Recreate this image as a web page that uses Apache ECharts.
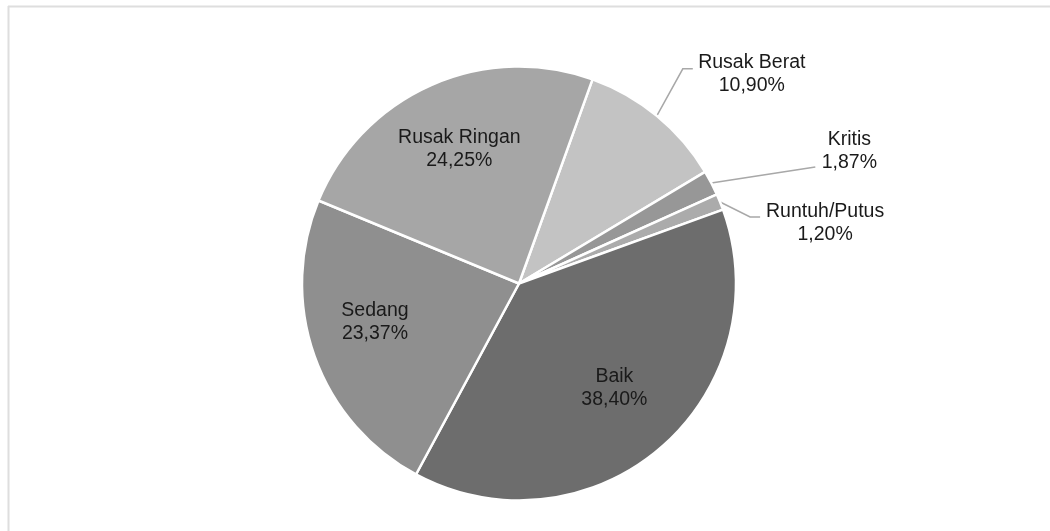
<!DOCTYPE html>
<html>
<head>
<meta charset="utf-8">
<script src="https://cdn.jsdelivr.net/npm/echarts@6/dist/echarts.min.js"></script>
<style>
  html, body { margin: 0; padding: 0; background: #ffffff; }
  #chart { width: 1050px; height: 531px; }
</style>
</head>
<body>
<div id="chart"></div>
<script>
// ---- data (clockwise from the Rusak Berat slice) ----
const categories = ['Rusak Berat', 'Kritis', 'Runtuh/Putus', 'Baik', 'Sedang', 'Rusak Ringan'];
const values = [10.90, 1.87, 1.20, 38.40, 23.37, 24.25];
const valueLabels = ['10,90%', '1,87%', '1,20%', '38,40%', '23,37%', '24,25%'];

// ---- styling (not data) ----
const sliceColors = {
  'Rusak Berat': '#c3c3c3',
  'Kritis': '#979797',
  'Runtuh/Putus': '#ababab',
  'Baik': '#6d6d6d',
  'Sedang': '#8f8f8f',
  'Rusak Ringan': '#a6a6a6'
};
const CX = 519, CY = 283.5, R = 217;
const START_CW = 19.8; // degrees clockwise from 12 o'clock
// inside labels: placed at fraction of radius along mid angle, plus small nudge
const insideLabel = {
  'Baik': { rf: 0.68, dx: -1, dy: -7 },
  'Sedang': { rf: 0.68, dx: -5, dy: -11 },
  'Rusak Ringan': { rf: 0.68, dx: 0, dy: 1 }
};
// outside labels: leader points and label centre as offsets from the slice's edge point
const outsideLabel = {
  'Rusak Berat': { line: [[26, -47], [36, -47]], label: [95, -42] },
  'Kritis': { line: [[104, -16]], label: [138, -32] },
  'Runtuh/Putus': { line: [[30, 15], [40, 15]], label: [105, 21] }
};

const total = values.reduce((a, b) => a + b, 0);
const midAngles = [];
{
  let acc = 0;
  values.forEach(v => {
    midAngles.push(START_CW + (acc + v / 2) / total * 360);
    acc += v;
  });
}
function polar(angleDeg, r) {
  const a = angleDeg * Math.PI / 180;
  return [CX + r * Math.sin(a), CY - r * Math.cos(a)];
}

const seriesData = categories.map((name, i) => {
  const inside = !!insideLabel[name];
  return {
    name: name,
    value: values[i],
    itemStyle: { color: sliceColors[name] },
    label: { position: inside ? 'inside' : 'outside' },
    labelLine: { show: !inside }
  };
});

const chart = echarts.init(document.getElementById('chart'), null, { renderer: 'canvas' });
chart.setOption({
  animation: false,
  backgroundColor: '#ffffff',
  graphic: [
    { type: 'line', silent: true, shape: { x1: 8.5, y1: 6, x2: 8.5, y2: 531 }, style: { stroke: '#dedede', lineWidth: 2 } },
    { type: 'line', silent: true, shape: { x1: 8, y1: 6.5, x2: 1050, y2: 6.5 }, style: { stroke: '#dedede', lineWidth: 2 } }
  ],
  series: [{
    type: 'pie',
    center: [CX, CY],
    radius: [0, R],
    startAngle: 90 - START_CW,
    clockwise: true,
    avoidLabelOverlap: false,
    minShowLabelAngle: 0,
    itemStyle: { borderColor: '#ffffff', borderWidth: 2.5 },
    label: {
      show: true,
      formatter: p => p.name + '\n' + valueLabels[p.dataIndex],
      fontFamily: '"Liberation Sans", Arial, sans-serif',
      fontSize: 19.5,
      lineHeight: 23,
      color: '#1a1a1a',
      align: 'center'
    },
    labelLine: {
      lineStyle: { color: '#a8a8a8', width: 1.5 },
      length: 20,
      length2: 10
    },
    labelLayout: function (params) {
      const i = params.dataIndex;
      const name = categories[i];
      const mid = midAngles[i];
      if (insideLabel[name]) {
        const s = insideLabel[name];
        const p = polar(mid, s.rf * R);
        return { x: p[0] + s.dx, y: p[1] + s.dy, align: 'center', verticalAlign: 'middle' };
      }
      const o = outsideLabel[name];
      const e = polar(mid, R);
      const pts = [[e[0], e[1]]].concat(o.line.map(d => [e[0] + d[0], e[1] + d[1]]));
      return {
        x: e[0] + o.label[0],
        y: e[1] + o.label[1],
        align: 'center',
        verticalAlign: 'middle',
        labelLinePoints: pts
      };
    },
    data: seriesData
  }]
});
</script>
</body>
</html>
